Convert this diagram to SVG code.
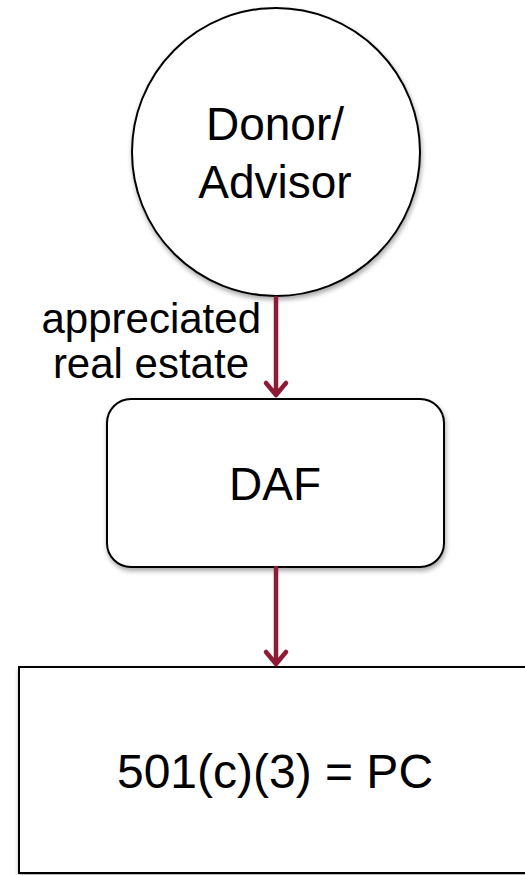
<svg xmlns="http://www.w3.org/2000/svg" width="525" height="875" viewBox="0 0 525 875">
<defs>
<filter id="sh" x="-10%" y="-10%" width="125%" height="125%">
<feGaussianBlur in="SourceAlpha" stdDeviation="2.5"/>
<feOffset dx="1" dy="3" result="b"/>
<feComponentTransfer><feFuncA type="linear" slope="0.35"/></feComponentTransfer>
<feMerge><feMergeNode/><feMergeNode in="SourceGraphic"/></feMerge>
</filter>
</defs>
<style>
.node{fill:#fff;stroke:#000;stroke-width:2}
.t{font-family:"Liberation Sans",Arial,sans-serif;fill:#000;text-anchor:middle}
.c{stroke:#8e1b35;stroke-width:4.5;fill:none;stroke-linecap:round;stroke-linejoin:round}
</style>
<rect width="525" height="875" fill="#fff"/>
<g id="donor">
<circle class="node" cx="276" cy="152" r="144" filter="url(#sh)"/>
<text class="t" x="275" y="140" font-size="46">Donor/</text>
<text class="t" x="275" y="198" font-size="46">Advisor</text>
</g>
<g id="daf">
<rect class="node" x="107" y="399" width="337" height="168" rx="24" filter="url(#sh)"/>
<text class="t" x="275" y="500" font-size="46">DAF</text>
</g>
<g id="pc">
<rect class="node" x="19" y="667" width="520" height="206" filter="url(#sh)"/>
<text class="t" x="275" y="788" font-size="48">501(c)(3) = PC</text>
</g>
<g id="connectors">
<path class="c" d="M276 298 V395 M266 383 L276 395 L286 383"/>
<path class="c" d="M276 568 V664 M266 652 L276 664 L286 652"/>
<text class="t" style="text-anchor:end" x="261" y="333" font-size="42">appreciated</text>
<text class="t" style="text-anchor:end" x="249" y="378" font-size="42">real estate</text>
</g>
</svg>
